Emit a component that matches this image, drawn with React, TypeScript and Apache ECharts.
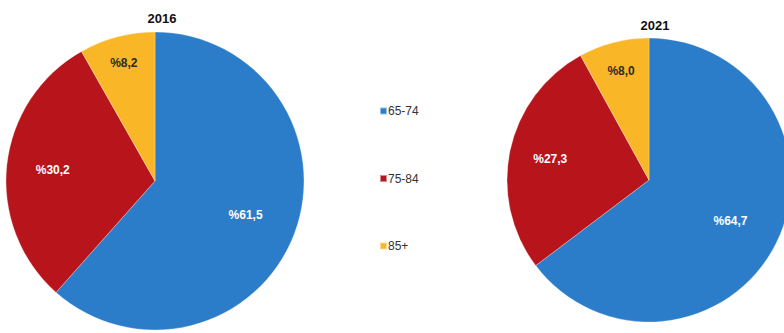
import React, { useEffect, useRef } from "react";
import * as echarts from "echarts";

const categories = ["65-74", "75-84", "85+"];
const values2016 = [61.5, 30.2, 8.2];
const values2021 = [64.7, 27.3, 8.0];
const years = ["2016", "2021"];
const colors = ["#2b7dc9", "#b8141b", "#f9b626"];
const labelColors = ["#ffffff", "#ffffff", "#2b2b2b"];
const labelFrac2016 = [0.63, 0.67, 0.8];
const labelFrac2021 = [0.62, 0.69, 0.77];

const fmt = (v: number) => "%" + v.toFixed(1).replace(".", ",");

function makePie(
  name: string,
  values: number[],
  center: [number, number],
  r: number,
  fracs: number[]
) {
  const total = values.reduce((a, b) => a + b, 0);
  const mids: number[] = [];
  let acc = 0;
  values.forEach((v) => {
    mids.push(((acc + v / 2) / total) * Math.PI * 2);
    acc += v;
  });
  return {
    type: "pie",
    name,
    center,
    radius: [0, r],
    startAngle: 90,
    clockwise: true,
    silent: true,
    itemStyle: { borderColor: "rgba(255,255,255,0.5)", borderWidth: 0.6 },
    label: {
      show: true,
      position: "inside",
      fontFamily: "Liberation Sans, Arial, sans-serif",
      fontWeight: "bold",
      fontSize: 12,
      formatter: (p: any) => fmt(p.value),
    },
    labelLine: { show: false },
    labelLayout: (p: any) => {
      const i = p.dataIndex;
      const t = mids[i];
      const d = (fracs[i] - 0.5) * r;
      return { dx: d * Math.sin(t), dy: -d * Math.cos(t) };
    },
    data: categories.map((c, i) => ({
      name: c,
      value: values[i],
      itemStyle: { color: colors[i] },
      label: { color: labelColors[i] },
    })),
  };
}

export default function App() {
  const ref = useRef<HTMLDivElement>(null);
  useEffect(() => {
    if (!ref.current) return;
    const chart = echarts.init(ref.current, undefined, { renderer: "svg" });
    chart.setOption({
      animation: false,
      backgroundColor: "#ffffff",
      title: [
        {
          text: years[0],
          left: 157,
          top: 7,
          textAlign: "center",
          textStyle: { fontSize: 13, fontWeight: "bold", color: "#111", fontFamily: "Liberation Sans, Arial, sans-serif" },
        },
        {
          text: years[1],
          left: 650,
          top: 14,
          textAlign: "center",
          textStyle: { fontSize: 13, fontWeight: "bold", color: "#111", fontFamily: "Liberation Sans, Arial, sans-serif" },
        },
      ],
      legend: {
        orient: "vertical",
        left: 374,
        top: 100,
        itemWidth: 7,
        itemHeight: 7,
        itemGap: 55.5,
        icon: "rect",
        textStyle: { fontSize: 12, color: "#333", fontFamily: "Liberation Sans, Arial, sans-serif", padding: [0, 0, 0, -4] },
        data: categories,
      },
      series: [
        makePie(years[0], values2016, [155, 181], 149, labelFrac2016),
        makePie(years[1], values2021, [649, 180], 142, labelFrac2021),
      ],
    });
    return () => chart.dispose();
  }, []);
  return (
    <div
      ref={ref}
      style={{ position: "fixed", left: 0, top: 0, width: 784, height: 333 }}
    />
  );
}
